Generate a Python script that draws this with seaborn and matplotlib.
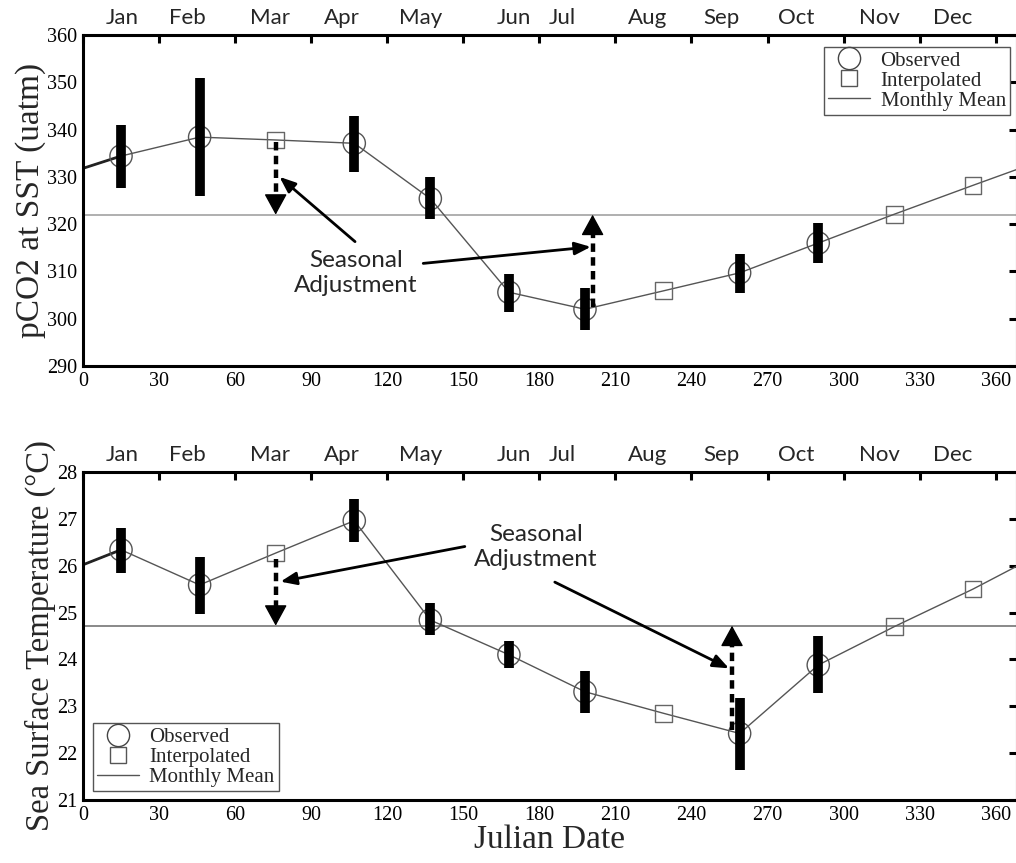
import matplotlib
matplotlib.use("Agg")
import matplotlib.pyplot as plt
import seaborn as sns
import pandas as pd
from matplotlib.lines import Line2D

# ---------------- data ----------------
months = ["Jan", "Feb", "Mar", "Apr", "May", "Jun", "Jul", "Aug", "Sep", "Oct", "Nov", "Dec"]
month_label_pos = [15.4, 41, 73.7, 102, 133, 170, 189, 222.5, 252, 281.5, 314, 343]

obs_days = [15, 46, 107, 137, 168, 198, 259, 290]
interp_days = [76, 229, 320, 351]
wrap_days = [0, 368]

pco2_obs = [334.4, 338.4, 337.1, 325.4, 305.6, 302.0, 309.7, 316.0]
pco2_lo = [327.6, 326.0, 331.1, 321.0, 301.5, 297.6, 305.5, 311.7]
pco2_hi = [341.0, 351.0, 342.9, 330.0, 309.5, 306.4, 313.7, 320.2]
pco2_interp = [337.8, 305.9, 322.1, 328.2]
pco2_wrap = [331.8, 331.5]
pco2_mean = 322.0
pco2_adjust = [(76, 337.4), (201, 302.4)]  # (day, start value) -> arrow to mean

sst_obs = [26.34, 25.59, 26.96, 24.84, 24.10, 23.31, 22.42, 23.88]
sst_lo = [25.84, 24.98, 26.50, 24.52, 23.81, 22.85, 21.64, 23.28]
sst_hi = [26.80, 26.18, 27.42, 25.20, 24.40, 23.76, 23.18, 24.50]
sst_interp = [26.27, 22.85, 24.70, 25.50]
sst_wrap = [26.02, 25.98]
sst_mean = 24.72
sst_adjust = [(76, 26.15), (256, 22.5)]

xticks = list(range(0, 361, 30))

SERIF = "Liberation Serif"
SANS = "Lato"

sns.set_theme(style="white")
plt.rcParams["font.family"] = [SERIF, "DejaVu Serif"]
plt.rcParams["axes.edgecolor"] = "black"
plt.rcParams["axes.linewidth"] = 2.2

fig = plt.figure(figsize=(10.16, 8.63), dpi=100)
W, H = 1016.0, 863.0
ax1 = fig.add_axes([83 / W, 1 - 366 / H, 934 / W, 331 / H])
ax2 = fig.add_axes([83 / W, 1 - 800 / H, 934 / W, 328 / H])


def panel(ax, obs, lo, hi, interp, wrap, mean, adjust, ylim, yticks, ylabel, ylsize,
          mean_color, text_xy, arrows, leg_loc, leg_anchor):
    ax.set_xlim(0, 368.4)
    ax.set_ylim(*ylim)
    px_per_unit = ax.bbox.height / (ylim[1] - ylim[0])
    df = pd.DataFrame({
        "day": [wrap_days[0]] + obs_days + interp_days + [wrap_days[1]],
        "val": [wrap[0]] + obs + interp + [wrap[1]],
    }).sort_values("day")
    ax.axhline(mean, color=mean_color, lw=1.1, zorder=1)
    sns.lineplot(data=df, x="day", y="val", ax=ax, color="#555555", lw=1.0,
                 sort=True, zorder=2, legend=False)
    first = df.iloc[:2]
    ax.plot(first["day"], first["val"], color="#222222", lw=2.0, zorder=2)
    ax.vlines(obs_days, lo, hi, color="black", lw=7, zorder=4)
    sns.scatterplot(x=obs_days, y=obs, ax=ax, marker="o", s=16 ** 2,
                    color="none", edgecolor="#555555", linewidth=1.0, zorder=3)
    sns.scatterplot(x=interp_days, y=interp, ax=ax, marker="s", s=12 ** 2,
                    color="none", edgecolor="#666666", linewidth=1.0, zorder=3)
    # seasonal adjustment dashed arrows: dashed shaft + solid head
    head_px = 18
    for d, v in adjust:
        sign = 1 if mean > v else -1
        stop = mean - sign * (head_px - 4) / px_per_unit
        ax.plot([d, d], [v, stop], color="black", lw=3.2,
                ls=(0, (1.9, 1.2)), zorder=5, solid_capstyle="butt")
        ax.annotate("", xy=(d, mean), xytext=(d, mean - sign * head_px / px_per_unit),
                    arrowprops=dict(arrowstyle="-|>,head_length=1.1,head_width=0.6",
                                    lw=1.0, color="black", shrinkA=0, shrinkB=0),
                    zorder=5)
    ax.text(text_xy[0], text_xy[1], "Seasonal\nAdjustment", ha="center", va="center",
            fontsize=17.5, family=[SANS, "DejaVu Sans"], linespacing=1.2, zorder=6)
    for (x0, y0), (x1, y1) in arrows:
        ax.annotate("", xy=(x1, y1), xytext=(x0, y0),
                    arrowprops=dict(arrowstyle="-|>,head_length=0.8,head_width=0.32",
                                    lw=2.0, color="black", shrinkA=0, shrinkB=0), zorder=5)
    ax.set_xticks(xticks)
    ax.set_yticks(yticks)
    ax.tick_params(direction="in", length=6, width=2.2, top=True, right=True,
                   labeltop=False, labelright=False, labelsize=14.5, pad=4,
                   colors="black")
    ax.set_ylabel(ylabel, fontsize=ylsize, labelpad=1)
    ax.set_xlabel("")
    sec = ax.secondary_xaxis("top")
    sec.set_xticks(month_label_pos, labels=months)
    sec.tick_params(length=0, pad=5, labelsize=16)
    for lab in sec.get_xticklabels():
        lab.set_family([SANS, "DejaVu Sans"])
    sec.spines["top"].set_visible(False)
    handles = [
        Line2D([], [], marker="o", ls="none", mfc="none", mec="#444444", ms=16, mew=1.0),
        Line2D([], [], marker="s", ls="none", mfc="none", mec="#555555", ms=12, mew=1.0),
        Line2D([], [], color="#555555", lw=1.0),
    ]
    leg = ax.legend(handles, ["Observed", "Interpolated", "Monthly Mean"],
                    loc=leg_loc, bbox_to_anchor=leg_anchor, borderaxespad=0,
                    frameon=True, fancybox=False, edgecolor="#555555", framealpha=1,
                    prop={"family": SERIF, "size": 15}, borderpad=0.2,
                    labelspacing=0.02, handlelength=2.0, handletextpad=0.5)
    leg.get_frame().set_linewidth(1.0)
    for sp in ax.spines.values():
        sp.set_linewidth(2.2)
        sp.set_color("black")


panel(ax1, pco2_obs, pco2_lo, pco2_hi, pco2_interp, pco2_wrap, pco2_mean, pco2_adjust,
      (290, 360), list(range(290, 361, 10)), "pCO2 at SST (uatm)", 24, "#9a9a9a",
      (107.6, 309.7),
      [((107.3, 316.3), (77.5, 330.0)), ((134.2, 311.7), (200.3, 315.2))],
      "upper right", (0.9925, 0.964))

panel(ax2, sst_obs, sst_lo, sst_hi, sst_interp, sst_wrap, sst_mean, sst_adjust,
      (21, 28), list(range(21, 29)), "Sea Surface Temperature (\u00b0C)", 23.5, "#6a6a6a",
      (178.6, 26.4),
      [((150.6, 26.41), (77.9, 25.66)), ((186.1, 25.65), (254.8, 23.81))],
      "lower left", (0.0107, 0.027))

ax2.set_xlabel("Julian Date", fontsize=24, labelpad=0)

fig.savefig("out.png", dpi=100)
